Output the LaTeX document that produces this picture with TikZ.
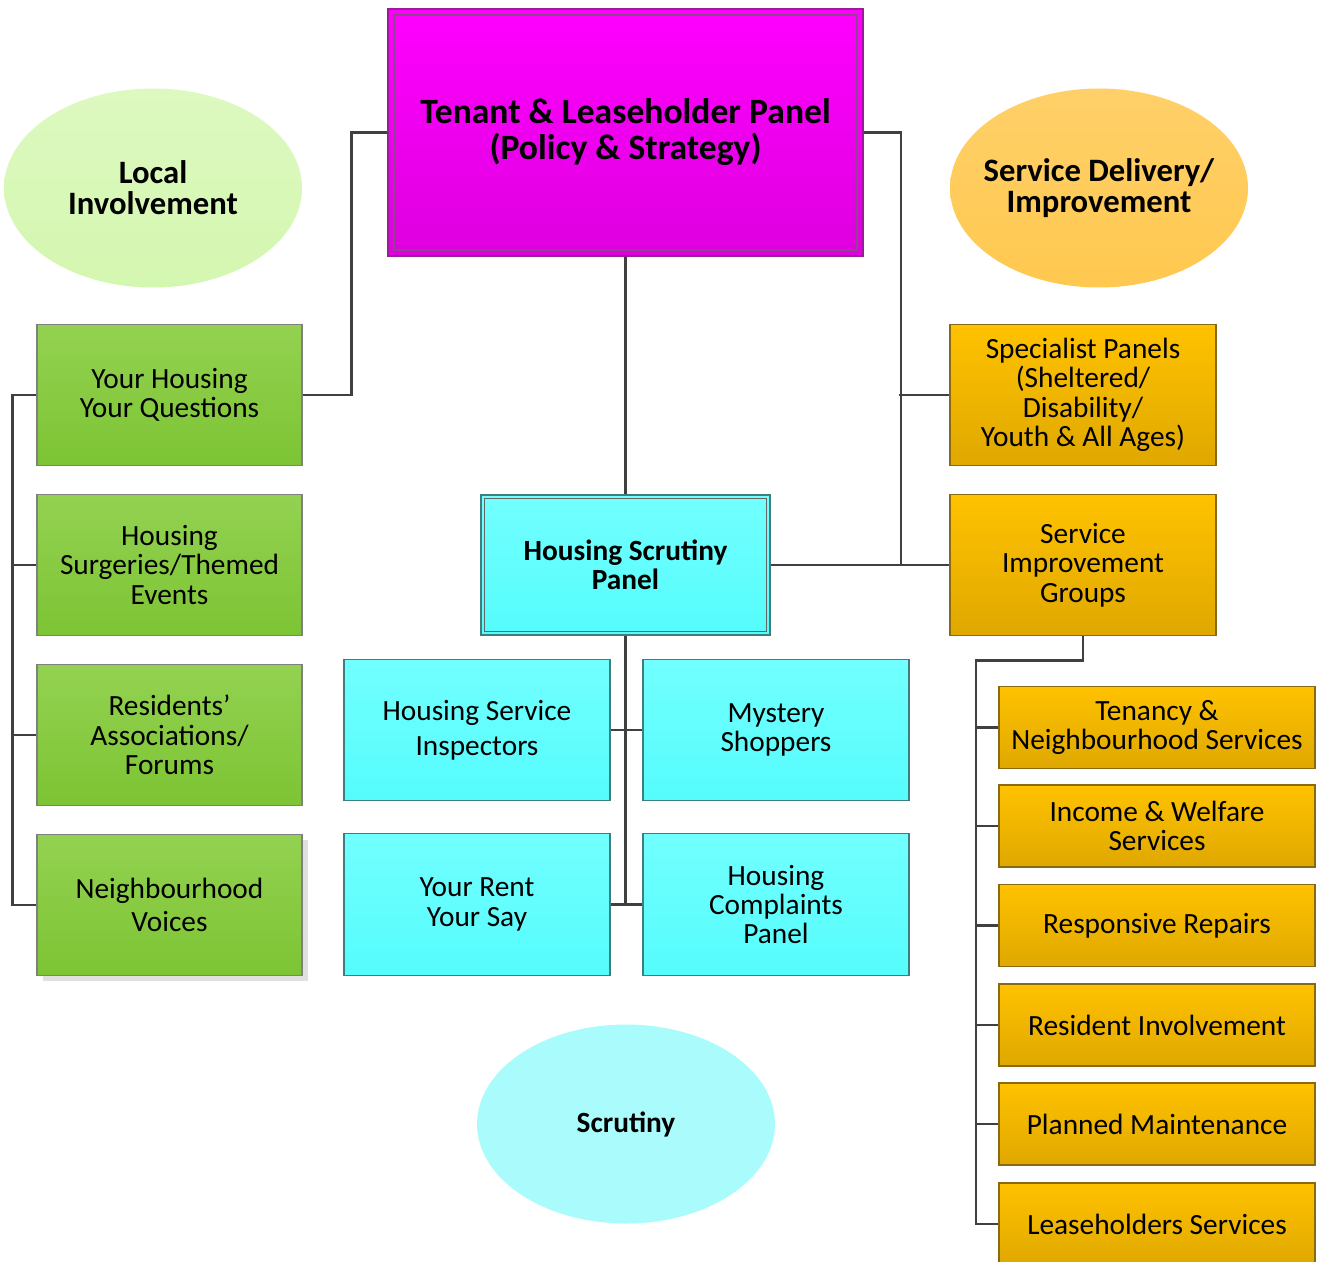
\documentclass[tikz,border=0pt]{standalone}
\usepackage{fontspec}
\setmainfont{Carlito}
\usepackage{tikz}
\usetikzlibrary{
	calc,											% 坐标计算
	positioning,									% 节点的高级摆放
	shadings,										% 颜色渐变
	shadows,										% 阴影
	shapes.geometric,								% 几何形状
}

\definecolor{linkgray}{HTML}{404040}
\definecolor{magtop}{HTML}{FF00FF}
\definecolor{magbot}{HTML}{DE00DE}
\definecolor{magline}{HTML}{9A1C9A}
\definecolor{greentop}{HTML}{93D251}
\definecolor{greenbot}{HTML}{7DC434}
\definecolor{orangetop}{HTML}{FFC200}
\definecolor{orangebot}{HTML}{DFA800}
\definecolor{orangeline}{HTML}{8A6A10}
\definecolor{cyantop}{HTML}{72FFFF}
\definecolor{cyanbot}{HTML}{55FCFC}
\definecolor{cyanline}{HTML}{3E7E7E}
\definecolor{localfill}{HTML}{D4F7B0}
\definecolor{servicefill}{HTML}{FFC84F}
\definecolor{scrutinyfill}{HTML}{AAFCFC}

\begin{document}
\begin{tikzpicture}[x=0.75pt, y=-0.75pt,
		txt/.style={font=\fontsize{22}{22.1}\selectfont, align=center, inner sep=0pt},
		link/.style={draw=linkgray, line width=2.2pt},
		greenbox/.style={txt, draw=gray, line width=0.8pt, top color=greentop, bottom color=greenbot,
			minimum width=198.75pt, minimum height=105.75pt},
		cyanbox/.style={txt, draw=cyanline, line width=0.8pt, top color=cyantop, bottom color=cyanbot,
			minimum width=199.5pt, minimum height=106pt},
		orangebox/.style={txt, draw=orangeline, line width=0.8pt, top color=orangetop, bottom color=orangebot,
			minimum width=199.5pt, minimum height=105.75pt},
		subbox/.style={orangebox, minimum width=237pt, minimum height=61.5pt},
		bubble/.style={ellipse, draw=none, inner sep=0pt, minimum width=223.5pt, minimum height=149.25pt},
		bubbletext/.style={align=center, font=\bfseries\fontsize{24.5}{23.2}\selectfont},
	]
	\useasboundingbox (0,0) rectangle (1327,1262);

	% ellipses
	\node[bubble, top color=localfill!80!white, bottom color=localfill,
		label={[bubbletext]center:Local\\Involvement}] (local) at (153,188) {};
	\node[bubble, top color=servicefill!85!white, bottom color=servicefill,
		label={[bubbletext]center:Service Delivery/\\Improvement}] (service) at (1099,188) {};
	\node[bubble, fill=scrutinyfill,
		label={[bubbletext, font=\bfseries\fontsize{22}{22}\selectfont]center:Scrutiny}] (scrutiny) at (626,1124) {};

	% top panel
	\node[txt, draw=magline, line width=1.5pt, top color=magtop, bottom color=magbot,
		minimum width=356.25pt, minimum height=185.25pt, font=\bfseries\fontsize{26.7}{27}\selectfont]
		(tlp) at (625.5,132.5) {Tenant \& Leaseholder Panel\\(Policy \& Strategy)};
	\draw[draw=magline!60!gray, line width=0.8pt] ($(tlp.north west)+(7,7)$) rectangle ($(tlp.south east)+(-7,-7)$);

	% local involvement
	\node[greenbox] (yhyq) at (169.5,395) {Your Housing\\Your Questions};
	\node[greenbox] (hs) at (169.5,565) {Housing\\Surgeries/Themed\\Events};
	\node[greenbox] (ra) at (169.5,735) {Residents’\\Associations/\\Forums};
	\node[greenbox, drop shadow={shadow xshift=4.5pt, shadow yshift=-4pt, fill=black!12, opacity=1}]
		(nv) at (169.5,905) {Neighbourhood\\[2.6pt]Voices};

	% scrutiny
	\node[cyanbox, minimum width=216.75pt, minimum height=105pt, line width=1pt, font=\bfseries\fontsize{22}{21.8}\selectfont]
		(hsp) at (625.5,565) {Housing Scrutiny\\Panel};
	\draw[draw=linkgray!80, line width=0.8pt] ($(hsp.north west)+(4.5,4.5)$) rectangle ($(hsp.south east)+(-4.5,-4.5)$);
	\node[cyanbox] (hsi) at (477,730) {Housing Service\\[4pt]Inspectors};
	\node[cyanbox] (ms) at (776,730) {Mystery\\Shoppers};
	\node[cyanbox] (yrys) at (477,904.5) {Your Rent\\Your Say};
	\node[cyanbox] (hcp) at (776,904.5) {Housing\\Complaints\\Panel};

	% service delivery
	\node[orangebox] (sp) at (1083,395) {Specialist Panels\\(Sheltered/\\Disability/\\Youth \& All Ages)};
	\node[orangebox] (sig) at (1083,565) {Service\\Improvement\\Groups};
	\node[subbox] (tns) at (1157,727.5) {Tenancy \&\\Neighbourhood Services};
	\node[subbox] (iws) at (1157,826) {Income \& Welfare\\Services};
	\node[subbox] (rr) at (1157,925.5) {Responsive Repairs};
	\node[subbox] (ri) at (1157,1025) {Resident Involvement};
	\node[subbox] (pm) at (1157,1124) {Planned Maintenance};
	\node[subbox] (lsv) at (1157,1224) {Leaseholders Services};

	% connectors
	\draw[link] (yhyq.west) -- ++(-24,0) |- (nv.west);
	\draw[link] (hs.west) -- ++(-24,0);
	\draw[link] (ra.west) -- ++(-24,0);
	\draw[link] (yhyq.east) -- ++(49,0) |- (tlp.west);
	\draw[link] (tlp.east) -- ++(37,0) |- (sig.west);
	\draw[link] (sp.west) -- ++(-50,0);
	\draw[link] (hsp.east) -- (sig.west);
	\draw[link] (tlp.south) -- (hsp.north);
	\draw[link] (hsp.south) -- (hsp.south |- yrys.east);
	\draw[link] (hsi.east) -- (ms.west);
	\draw[link] (yrys.east) -- (hcp.west);
	\draw[link] (sig.south) -- ++(0,24) -- ++(-107,0) |- (lsv.west);
	\foreach \n in {tns,iws,rr,ri,pm}
		\draw[link] (\n.west) -- ++(-23,0);
\end{tikzpicture}
\end{document}
